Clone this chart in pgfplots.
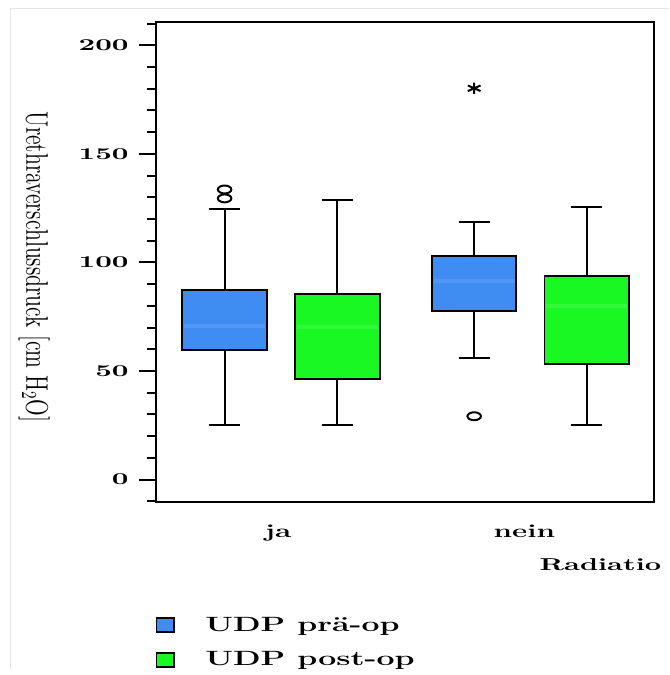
\documentclass[border=0pt]{standalone}
\usepackage{graphicx}
\usepackage{pgfplots}
\pgfplotsset{compat=1.18}

\definecolor{preblue}{RGB}{63,140,242}
\definecolor{postgreen}{RGB}{26,248,36}

\pgfplotsset{
  boxfill/.style={draw=black, line width=1.2pt, fill=#1, forget plot},
  whisk/.style={black, line width=1.2pt, forget plot, unbounded coords=jump},
  med/.style={#1!90!white, line width=2.6pt, forget plot},
  sqlegend/.style={fill=#1, draw=black, line width=1.2pt,
    legend image code/.code={\draw[##1] (0pt,-4.2pt) rectangle (10.8pt,4.2pt); \path (27pt,0pt);}},
}

\begin{document}
\begin{tikzpicture}
\begin{axis}[
    scale only axis,
    width=301.1pt, height=290.4pt,
    xmin=0.5, xmax=2.5, ymin=-10.5, ymax=210.5,
    axis line style={line width=1.2pt},
    tick align=outside,
    ytick={0,50,100,150,200},
    yticklabels={\scalebox{1.75}[1]{0},\scalebox{1.75}[1]{50},\scalebox{1.75}[1]{100},\scalebox{1.75}[1]{150},\scalebox{1.75}[1]{200}},
    minor ytick={-10,0,...,210},
    ytick pos=left,
    major tick length=10.2pt, minor tick length=5.4pt,
    every tick/.style={black, line width=1.2pt},
    yticklabel style={font=\fontsize{10}{11}\bfseries, xshift=-3pt},
    xtick={0.99,1.98},
    xticklabels={\scalebox{1.6}[1]{ja},\scalebox{1.6}[1]{nein}},
    x tick style={draw=none},
    xtick pos=bottom,
    xticklabel style={font=\fontsize{11.2}{12}\bfseries},
    ylabel={\scalebox{1}[1.43]{Urethraverschlussdruck [cm H$_2$O]}},
    ylabel style={at={(rel axis cs:-0.245,0.491)}, anchor=center, rotate=180, font=\fontsize{13.2}{15}\selectfont},
    xlabel={\scalebox{1.65}[1]{Radiatio}},
    xlabel style={at={(rel axis cs:0.770,0)}, anchor=base west, inner sep=0pt, yshift=-41pt, font=\fontsize{10.4}{12}\bfseries},
    legend style={at={(rel axis cs:-0.012,-0.224)}, anchor=north west, draw=none, fill=none,
      font=\fontsize{12.5}{14}\bfseries, row sep=7pt},
    legend cell align=left,
  ]
% ja, pre-op: whiskers 25.3/124.6, box 59.7-87.3, median 70.8
\addplot[whisk] coordinates {(0.775,25.3) (0.775,124.6) (nan,nan) (0.713,25.3) (0.837,25.3) (nan,nan) (0.713,124.6) (0.837,124.6)};
\addplot[boxfill=preblue] coordinates {(0.6055,59.7) (0.9445,59.7) (0.9445,87.3) (0.6055,87.3)} --cycle;
\addplot[med=preblue] coordinates {(0.612,70.8) (0.938,70.8)};
% ja, post-op: whiskers 25.3/128.6, box 46.2-85.3, median 70.2
\addplot[whisk] coordinates {(1.228,25.3) (1.228,128.6) (nan,nan) (1.166,25.3) (1.290,25.3) (nan,nan) (1.166,128.6) (1.290,128.6)};
\addplot[boxfill=postgreen] coordinates {(1.0585,46.2) (1.3975,46.2) (1.3975,85.3) (1.0585,85.3)} --cycle;
\addplot[med=postgreen] coordinates {(1.065,70.2) (1.391,70.2)};
% nein, pre-op: whiskers 55.9/118.5, box 77.7-102.9, median 91.5
\addplot[whisk] coordinates {(1.778,55.9) (1.778,118.5) (nan,nan) (1.716,55.9) (1.840,55.9) (nan,nan) (1.716,118.5) (1.840,118.5)};
\addplot[boxfill=preblue] coordinates {(1.6085,77.7) (1.9475,77.7) (1.9475,102.9) (1.6085,102.9)} --cycle;
\addplot[med=preblue] coordinates {(1.615,91.5) (1.941,91.5)};
% nein, post-op: whiskers 25.1/125.7, box 53.3-93.7, median 79.8
\addplot[whisk] coordinates {(2.230,25.1) (2.230,125.7) (nan,nan) (2.168,25.1) (2.292,25.1) (nan,nan) (2.168,125.7) (2.292,125.7)};
\addplot[boxfill=postgreen] coordinates {(2.0605,53.3) (2.3995,53.3) (2.3995,93.7) (2.0605,93.7)} --cycle;
\addplot[med=postgreen] coordinates {(2.067,79.8) (2.393,79.8)};
% outliers
\addplot[only marks, mark=o, mark size=2.4pt, forget plot,
    mark options={black, line width=1.2pt, xscale=1.7}]
  coordinates {(0.775,133.6) (0.775,129.5) (1.778,29.2)};
\addplot[only marks, mark=asterisk, mark size=3.4pt, forget plot,
    mark options={black, line width=1.2pt, xscale=1.3}]
  coordinates {(1.778,180.2)};
% legend
\addlegendimage{sqlegend=preblue}
\addlegendentry{\scalebox{1.55}[1]{UDP prä-op}}
\addlegendimage{sqlegend=postgreen}
\addlegendentry{\scalebox{1.55}[1]{UDP post-op}}
\end{axis}
\draw[black!10, line width=0.6pt]
  ([shift={(-87.9pt,-101pt)}]current axis.south west)
  -- ([shift={(-87.9pt,298.6pt)}]current axis.south west)
  -- ([shift={(310pt,298.6pt)}]current axis.south west);
\path[use as bounding box]
  ([shift={(-94.5pt,-101pt)}]current axis.south west)
  rectangle ([shift={(1pt,13.6pt)}]current axis.north east);
\end{tikzpicture}
\end{document}
